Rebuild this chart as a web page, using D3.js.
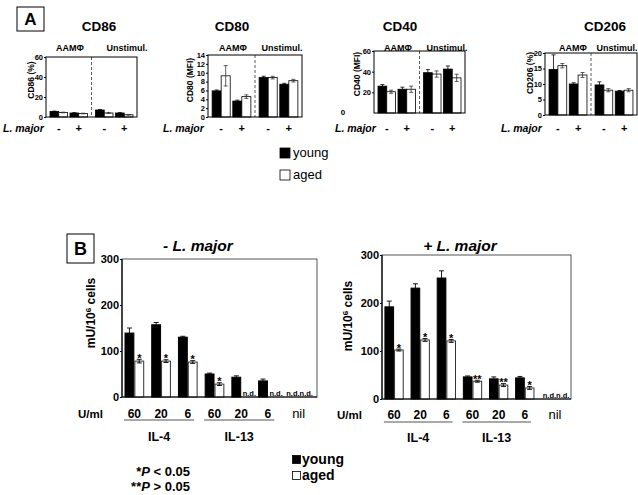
<!DOCTYPE html>
<html><head><meta charset="utf-8">
<script src="https://cdn.jsdelivr.net/npm/d3@7/dist/d3.min.js"></script>
<style>
body{margin:0;background:#fff}
svg{display:block}
text{font-family:"Liberation Sans",Arial,Helvetica,sans-serif}
</style>
</head><body>
<svg id="c" width="638" height="495"></svg>
<script>
// ---------- Panel A data ----------
const aMarkers = ["CD86", "CD80", "CD40", "CD206"];
const aYLabels = ["CD86 (%)", "CD80 (MFI)", "CD40 (MFI)", "CD206 (%)"];
const aConditions = ["AAMΦ", "Unstimul."];
const lMajorLevels = ["-", "+"];
const groups = ["young", "aged"];
const aYMax = [60, 14, 60, 20];
const aTicks = [[0, 20, 40, 60], [0, 2, 4, 6, 8, 10, 12, 14], [20, 40, 60], [0, 5, 10, 15, 20]];
// order: AAMΦ -, AAMΦ +, Unstimul. -, Unstimul. +
const cd86Young = [5.5, 4, 7, 4],       cd86YoungErr = [0.4, 0.3, 0.5, 0.3];
const cd86Aged = [4.5, 3.5, 4, 2.2],    cd86AgedErr = [0.3, 0.3, 0.4, 0.3];
const cd80Young = [5.9, 3.6, 8.9, 7.4], cd80YoungErr = [0.2, 0.2, 0.3, 0.2];
const cd80Aged = [9.3, 4.6, 8.9, 8.2],  cd80AgedErr = [2.3, 0.4, 0.3, 0.3];
const cd40Young = [26, 23, 39, 42.5],   cd40YoungErr = [1.5, 2, 3, 3];
const cd40Aged = [20.6, 23, 37.7, 34],  cd40AgedErr = [1.5, 3, 3, 3.5];
const cd206Young = [14.7, 10, 9.7, 7.7], cd206YoungErr = [4.7, 0.4, 1, 0.2];
const cd206Aged = [15.9, 12.9, 8, 8],    cd206AgedErr = [0.7, 0.8, 0.5, 0.5];

// ---------- Panel B data ----------
const bCategories = ["IL-4 60", "IL-4 20", "IL-4 6", "IL-13 60", "IL-13 20", "IL-13 6", "nil"];
const bConcLabels = ["60", "20", "6", "60", "20", "6", "nil"];
const bCytokines = ["IL-4", "IL-13"];
const bTitles = ["- L. major", "+ L. major"];
const bTicks = [0, 100, 200, 300];
const noLmYoung = [139, 157, 130, 50, 43, 35, null], noLmYoungErr = [11, 5, 2, 2, 3, 4, null];
const noLmAged = [78, 78, 76, 28, null, null, null], noLmAgedErr = [4, 3, 3, 3, null, null, null];
const noLmSig = ["*", "*", "*", "*", "", "", ""];
const lmYoung = [192, 231, 252, 46, 42, 44, null], lmYoungErr = [12, 9, 15, 2, 4, 3, null];
const lmAged = [102, 123, 121, 37, 29, 23, null], lmAgedErr = [2, 3, 3, 2, 3, 3, null];
const lmSig = ["*", "*", "*", "**", "**", "*", ""];

const svg = d3.select("#c");

// ---------- Panel A ----------
const aSeries = [[cd86Young, cd86Aged], [cd80Young, cd80Aged], [cd40Young, cd40Aged], [cd206Young, cd206Aged]];
const aErrs = [[cd86YoungErr, cd86AgedErr], [cd80YoungErr, cd80AgedErr], [cd40YoungErr, cd40AgedErr], [cd206YoungErr, cd206AgedErr]];
const aLayout = [
  {x0: 46, x1: 137, y0: 57, y1: 117, tx: 99, cond: [70, 127], lm: 3, yl: 34, ylc: 80},
  {x0: 208, x1: 302, y0: 55, y1: 117, tx: 232, cond: [233, 282], lm: 163, yl: 193, ylc: 80},
  {x0: 374, x1: 465, y0: 51, y1: 113, tx: 400, cond: [398, 447], lm: 335, yl: 360, ylc: 74},
  {x0: 545, x1: 637, y0: 53, y1: 115, tx: 605, cond: [573, 617], lm: 501, yl: 533, ylc: 73}
];

// panel letter A
svg.append("rect").attr("x", 17).attr("y", 7).attr("width", 27).attr("height", 24)
  .attr("fill", "none").attr("stroke", "#000").attr("stroke-width", 1);
svg.append("text").attr("x", 30.5).attr("y", 25).attr("text-anchor", "middle")
  .attr("font-size", 17).attr("font-weight", "bold").text("A");

aLayout.forEach((L, k) => {
  const g = svg.append("g");
  const y = d3.scaleLinear().domain([0, aYMax[k]]).range([L.y1, L.y0]);
  const outer = d3.scaleBand().domain(aConditions).range([L.x0, L.x1]);
  const mid = d3.scaleBand().domain(lMajorLevels).range([0, outer.bandwidth()]).paddingInner(0.125).paddingOuter(0.2);
  const inner = d3.scaleBand().domain(groups).range([0, mid.bandwidth()]);
  const rows = [];
  aConditions.forEach((c, ci) => lMajorLevels.forEach((l, li) => {
    const i = ci * 2 + li;
    groups.forEach((gn, gi) => rows.push({c, l, g: gn, v: aSeries[k][gi][i], e: aErrs[k][gi][i]}));
  }));
  const bx = d => outer(d.c) + mid(d.l) + inner(d.g);

  // title
  g.append("text").attr("x", L.tx).attr("y", 31).attr("text-anchor", "middle")
    .attr("font-size", 13.5).attr("font-weight", "bold").text(aMarkers[k]);
  // condition labels
  aConditions.forEach((c, ci) => g.append("text").attr("x", L.cond[ci]).attr("y", 51)
    .attr("text-anchor", "middle").attr("font-size", 9).attr("font-weight", "bold").text(c));

  // bars
  g.selectAll("rect.bar").data(rows).join("rect").attr("class", "bar")
    .attr("x", bx).attr("width", inner.bandwidth())
    .attr("y", d => y(d.v)).attr("height", d => y(0) - y(d.v))
    .attr("fill", d => d.g === "young" ? "#000" : "#fff")
    .attr("stroke", "#000").attr("stroke-width", 0.8);
  // error bars
  const eb = g.selectAll("g.eb").data(rows).join("g").attr("class", "eb")
    .attr("stroke", d => d.g === "young" ? "#000" : "#333").attr("stroke-width", 0.8);
  eb.append("line").attr("x1", d => bx(d) + inner.bandwidth() / 2).attr("x2", d => bx(d) + inner.bandwidth() / 2)
    .attr("y1", d => y(Math.max(0, d.v - d.e))).attr("y2", d => y(d.v + d.e));
  eb.append("line").attr("x1", d => bx(d) + inner.bandwidth() / 2 - 2).attr("x2", d => bx(d) + inner.bandwidth() / 2 + 2)
    .attr("y1", d => y(d.v + d.e)).attr("y2", d => y(d.v + d.e));
  eb.append("line").attr("x1", d => bx(d) + inner.bandwidth() / 2 - 2).attr("x2", d => bx(d) + inner.bandwidth() / 2 + 2)
    .attr("y1", d => y(Math.max(0, d.v - d.e))).attr("y2", d => y(Math.max(0, d.v - d.e)));

  // dashed separator
  const sx = outer(aConditions[1]);
  g.append("line").attr("x1", sx).attr("x2", sx).attr("y1", L.y0).attr("y2", L.y1)
    .attr("stroke", "#333").attr("stroke-width", 0.8).attr("stroke-dasharray", "3,2");
  // frame
  g.append("rect").attr("x", L.x0).attr("y", L.y0).attr("width", L.x1 - L.x0).attr("height", L.y1 - L.y0)
    .attr("fill", "none").attr("stroke", "#000").attr("stroke-width", 1);

  // y axis
  const ax = g.append("g").attr("transform", `translate(${L.x0},0)`)
    .call(d3.axisLeft(y).tickValues(aTicks[k]).tickSize(2).tickPadding(1));
  ax.select(".domain").remove();
  ax.selectAll("text").attr("font-size", 7.5).attr("font-weight", "bold")
    .attr("font-family", "Liberation Sans, Arial, sans-serif");
  // y label
  g.append("text").attr("transform", `translate(${L.yl},${L.ylc}) rotate(-90)`)
    .attr("text-anchor", "middle").attr("font-size", 8.5).attr("font-weight", "bold").text(aYLabels[k]);

  // L. major row
  g.append("text").attr("x", L.lm).attr("y", 132).attr("font-size", 10.5)
    .attr("font-weight", "bold").attr("font-style", "italic").text("L. major");
  aConditions.forEach(c => lMajorLevels.forEach(l => {
    g.append("text").attr("x", outer(c) + mid(l) + mid.bandwidth() / 2).attr("y", 132)
      .attr("text-anchor", "middle").attr("font-size", 11).attr("font-weight", "bold").text(l);
  }));
});
// stray zero label under CD40
svg.append("text").attr("x", 343).attr("y", 115).attr("text-anchor", "middle")
  .attr("font-size", 8).attr("font-weight", "bold").text("0");

// legend A
groups.forEach((gn, i) => {
  svg.append("rect").attr("x", 280).attr("y", 148 + i * 22).attr("width", 10).attr("height", 10)
    .attr("fill", gn === "young" ? "#000" : "#fff").attr("stroke", "#000").attr("stroke-width", 0.8);
  svg.append("text").attr("x", 293).attr("y", 157 + i * 22).attr("font-size", 13).text(gn);
});

// ---------- Panel B ----------
svg.append("rect").attr("x", 67).attr("y", 234).attr("width", 27).attr("height", 29)
  .attr("fill", "none").attr("stroke", "#000").attr("stroke-width", 1);
svg.append("text").attr("x", 80.5).attr("y", 255).attr("text-anchor", "middle")
  .attr("font-size", 18).attr("font-weight", "bold").text("B");

const bLayout = [
  {x0: 122, x1: 317, y0: 259, y1: 397, br: [121, 308], labY: 418, lineY: 420, grpY: 441, uml: 78, tx: 198, ty: 251, yl: 95, ylc: 313,
   young: noLmYoung, youngErr: noLmYoungErr, aged: noLmAged, agedErr: noLmAgedErr, sig: noLmSig},
  {x0: 382, x1: 571, y0: 255, y1: 399, br: [381, 564], labY: 419, lineY: 422, grpY: 442, uml: 337, tx: 460, ty: 251, yl: 352, ylc: 316,
   young: lmYoung, youngErr: lmYoungErr, aged: lmAged, agedErr: lmAgedErr, sig: lmSig}
];

bLayout.forEach((L, k) => {
  const g = svg.append("g");
  const y = d3.scaleLinear().domain([0, 300]).range([L.y1, L.y0]);
  const x = d3.scaleBand().domain(bCategories).range(L.br).paddingInner(0.3).paddingOuter(0.15);
  const inner = d3.scaleBand().domain(groups).range([0, x.bandwidth()]).paddingInner(0.1);
  const rows = [];
  bCategories.forEach((c, i) => {
    rows.push({c, g: "young", v: L.young[i], e: L.youngErr[i], s: ""});
    rows.push({c, g: "aged", v: L.aged[i], e: L.agedErr[i], s: L.sig[i]});
  });
  const bars = rows.filter(d => d.v !== null);
  const bx = d => x(d.c) + inner(d.g);
  const cx = d => bx(d) + inner.bandwidth() / 2;

  // title
  g.append("text").attr("x", L.tx).attr("y", L.ty).attr("text-anchor", "middle")
    .attr("font-size", 15.5).attr("font-weight", "bold").attr("font-style", "italic").text(bTitles[k]);

  // frame (top/right grey)
  g.append("rect").attr("x", L.x0).attr("y", L.y0).attr("width", L.x1 - L.x0).attr("height", L.y1 - L.y0)
    .attr("fill", "none").attr("stroke", "#555").attr("stroke-width", 1);

  // error bars
  const eb = g.selectAll("g.eb").data(bars).join("g").attr("class", "eb")
    .attr("stroke", "#000").attr("stroke-width", 0.9);
  eb.append("line").attr("x1", cx).attr("x2", cx)
    .attr("y1", d => y(d.g === "young" ? d.v : d.v - d.e)).attr("y2", d => y(d.v + d.e));
  eb.append("line").attr("x1", d => cx(d) - 2.5).attr("x2", d => cx(d) + 2.5)
    .attr("y1", d => y(d.v + d.e)).attr("y2", d => y(d.v + d.e));
  // bars
  g.selectAll("rect.bar").data(bars).join("rect").attr("class", "bar")
    .attr("x", bx).attr("width", inner.bandwidth())
    .attr("y", d => y(d.v)).attr("height", d => y(0) - y(d.v))
    .attr("fill", d => d.g === "young" ? "#000" : "#fff")
    .attr("stroke", d => d.g === "young" ? "#000" : "#333").attr("stroke-width", 1);
  // aged lower error inside white bar
  g.selectAll("line.low").data(bars.filter(d => d.g === "aged")).join("line").attr("class", "low")
    .attr("x1", cx).attr("x2", cx).attr("y1", d => y(d.v - d.e)).attr("y2", d => y(d.v))
    .attr("stroke", "#000").attr("stroke-width", 0.9);
  g.selectAll("line.lowcap").data(bars.filter(d => d.g === "aged")).join("line").attr("class", "lowcap")
    .attr("x1", d => cx(d) - 2.5).attr("x2", d => cx(d) + 2.5).attr("y1", d => y(d.v - d.e)).attr("y2", d => y(d.v - d.e))
    .attr("stroke", "#000").attr("stroke-width", 0.9);

  // significance stars
  g.selectAll("text.sig").data(bars.filter(d => d.s)).join("text").attr("class", "sig")
    .attr("x", cx).attr("y", d => y(d.v + d.e) + 2.5).attr("text-anchor", "middle")
    .attr("font-size", 11).attr("font-weight", "bold").text(d => d.s);

  // n.d. labels
  bCategories.forEach((c, i) => {
    if (L.young[i] === null && L.aged[i] === null) {
      g.append("text").attr("x", x(c) + 1).attr("y", L.y1 - 1).attr("font-size", 7.5)
        .attr("font-weight", "bold").text("n.d.n.d.");
    } else if (L.aged[i] === null) {
      g.append("text").attr("x", x(c) + inner("aged") + 1).attr("y", L.y1 - 1).attr("font-size", 7.5)
        .attr("font-weight", "bold").text("n.d.");
    }
  });

  // axes lines (left & bottom black)
  g.append("line").attr("x1", L.x0).attr("x2", L.x0).attr("y1", L.y0).attr("y2", L.y1).attr("stroke", "#000").attr("stroke-width", 1.2);
  g.append("line").attr("x1", L.x0).attr("x2", L.x1).attr("y1", L.y1).attr("y2", L.y1).attr("stroke", "#000").attr("stroke-width", 1.2);
  const ax = g.append("g").attr("transform", `translate(${L.x0},0)`)
    .call(d3.axisLeft(y).tickValues(bTicks).tickSize(2).tickPadding(1));
  ax.select(".domain").remove();
  ax.selectAll("text").attr("font-size", 11).attr("font-weight", "bold")
    .attr("font-family", "Liberation Sans, Arial, sans-serif");

  // y label
  const yl = g.append("text").attr("transform", `translate(${L.yl},${L.ylc}) rotate(-90)`)
    .attr("text-anchor", "middle").attr("font-size", 12).attr("font-weight", "bold");
  yl.append("tspan").text("mU/10");
  yl.append("tspan").attr("dy", -4).attr("font-size", 8).text("6");
  yl.append("tspan").attr("dy", 4).text(" cells");

  // x labels
  g.append("text").attr("x", L.uml).attr("y", L.labY).attr("font-size", 11.5).attr("font-weight", "bold").text("U/ml");
  bCategories.forEach((c, i) => {
    const isNil = bConcLabels[i] === "nil";
    g.append("text").attr("x", x(c) + x.bandwidth() / 2 + (isNil ? 4 : 0)).attr("y", L.labY)
      .attr("text-anchor", "middle").attr("font-size", isNil ? 13 : 12)
      .attr("font-weight", isNil ? "normal" : "bold").text(bConcLabels[i]);
  });
  // cytokine underline + label
  bCytokines.forEach((cy, j) => {
    const cats = bCategories.filter(c => c.startsWith(cy + " "));
    const xa = x(cats[0]) - 1, xb = x(cats[cats.length - 1]) + x.bandwidth() - 3;
    g.append("line").attr("x1", xa).attr("x2", xb).attr("y1", L.lineY).attr("y2", L.lineY)
      .attr("stroke", "#555").attr("stroke-width", 1);
    g.append("text").attr("x", (xa + xb) / 2).attr("y", L.grpY).attr("text-anchor", "middle")
      .attr("font-size", 12.5).attr("font-weight", "bold").text(cy);
  });
});

// legend B
groups.forEach((gn, i) => {
  svg.append("rect").attr("x", 292.5).attr("y", 455.5 + i * 16).attr("width", 8).attr("height", 8)
    .attr("fill", gn === "young" ? "#000" : "#fff").attr("stroke", "#000").attr("stroke-width", 0.8);
  svg.append("text").attr("x", 302).attr("y", 463.5 + i * 16).attr("font-size", 14)
    .attr("font-weight", "bold").text(gn);
});

// significance notes
const notes = [["*", "P", " < 0.05"], ["**", "P", " > 0.05"]];
notes.forEach((n, i) => {
  const t = svg.append("text").attr("x", 190).attr("y", 476 + i * 14.5).attr("text-anchor", "end")
    .attr("font-size", 13).attr("font-weight", "bold");
  t.append("tspan").text(n[0]);
  t.append("tspan").attr("font-style", "italic").text(n[1]);
  t.append("tspan").text(n[2]);
});
</script>
</body></html>
